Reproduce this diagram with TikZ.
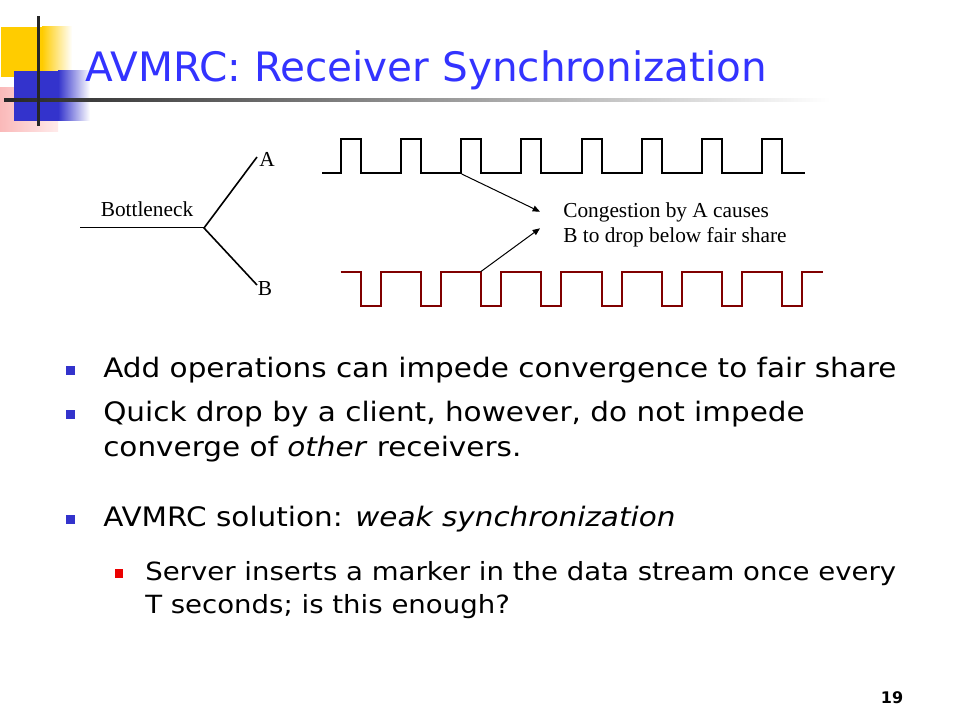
\documentclass[tikz,border=0pt]{standalone}
\usepackage{fontspec}
\setmainfont{Liberation Serif}
\newfontfamily\titlefont{DejaVu Sans}
\newfontfamily\bodyfont[FakeStretch=1.1]{DejaVu Sans}
\usetikzlibrary{arrows.meta}
\definecolor{titleblue}{RGB}{51,51,255}
\definecolor{bulletblue}{RGB}{51,51,204}
\definecolor{bulletred}{RGB}{235,0,0}
\definecolor{logoyellow}{RGB}{255,204,0}
\definecolor{logoblue}{RGB}{51,51,204}
\definecolor{logopink}{RGB}{250,185,185}
\definecolor{logopinklight}{RGB}{255,235,235}
\definecolor{wavered}{RGB}{128,0,0}
\tikzset{
  lab/.style={font=\fontsize{16}{19}\selectfont, inner sep=0pt},
  bodytext/.style={font=\bodyfont\fontsize{20.1}{24}\selectfont, inner sep=0pt, anchor=base west},
  subtext/.style={font=\bodyfont\fontsize{18.8}{22}\selectfont, inner sep=0pt, anchor=base west},
  wave/.style={line width=1.5pt, line join=miter},
  arr/.style={line width=0.75pt, -{Triangle[length=5.5pt,width=4.5pt]}},
  bmark/.style={fill=bulletblue},
  smark/.style={fill=bulletred}
}
\begin{document}
\begin{tikzpicture}[x=0.75pt,y=-0.75pt]
\useasboundingbox (0,0) rectangle (960,720);
% ---- logo ----
\shade[left color=logopink, right color=logopinklight] (0,88) rectangle (58,132);
\fill[logoyellow] (1,27) rectangle (42,77);
\shade[left color=logoyellow, right color=white] (42,27) rectangle (72,77);
\fill[logoblue] (14,71) rectangle (58,121);
\shade[left color=logoblue, right color=white] (58,71) rectangle (90,121);
\shade[left color=black!85, right color=white] (4,99) rectangle (830,102);
\fill[black!85] (37,16) rectangle (40,126);
% ---- title ----
\node[anchor=base west, font=\titlefont\fontsize{30.4}{36}\selectfont, text=titleblue, inner sep=0pt] (title) at (85,82) {AVMRC: Receiver Synchronization};
% ---- bottleneck ----
\coordinate (bl) at (80,228);
\coordinate (j) at (204,228);
\coordinate (ea) at (257,157);
\coordinate (eb) at (257,285);
\draw[line width=0.75pt] (bl) -- (j);
\draw[line width=1.2pt] (ea) -- (j) -- (eb);
\node[lab, anchor=base] (bn) at (147,217) {Bottleneck};
\node[lab] (la) at (267,159) {A};
\node[lab] (lb) at (265,289) {B};
% ---- waveforms ----
\draw[wave] (322,173)
  \foreach \k in {0,...,7} { -- ({340.7+60.2*\k},173) -- ({340.7+60.2*\k},139) -- ({360.7+60.2*\k},139) -- ({360.7+60.2*\k},173) }
  -- (805,173);
\draw[wave, wavered] (340.7,271.7)
  \foreach \k in {0,...,7} { -- ({360.7+60.2*\k},271.7) -- ({360.7+60.2*\k},305.7) -- ({380.7+60.2*\k},305.7) -- ({380.7+60.2*\k},271.7) }
  -- (823,271.7);
\coordinate (pa) at (461.7,174);
\coordinate (pb) at (480.7,271.7);
\coordinate (ta) at (540,211.7);
\coordinate (tb) at (540,228.3);
\draw[arr] (pa) -- (ta);
\draw[arr] (pb) -- (tb);
\node[lab, anchor=base west] (c1) at (563,217.7) {Congestion by A causes};
\node[lab, anchor=base west] (c2) at (563,242.3) {B to drop below fair share};
% ---- bullets ----
\fill[bmark] (65.5,365.5) rectangle (74.5,374.5);
\node[bodytext] (t1) at (103,377) {Add operations can impede convergence to fair share};
\fill[bmark] (65.5,410.2) rectangle (74.5,419.2);
\node[bodytext] (t2a) at (103,421.7) {Quick drop by a client, however, do not impede};
\node[bodytext] (t2b) at (103,456.7) {converge of \textit{other} receivers.};
\fill[bmark] (65.5,514.5) rectangle (74.5,523.5);
\node[bodytext] (t3) at (103,526) {AVMRC solution: \textit{weak synchronization}};
\fill[smark] (114.5,569) rectangle (123,577.5);
\node[subtext] (s1a) at (145,580) {Server inserts a marker in the data stream once every};
\node[subtext] (s1b) at (145,613) {T seconds; is this enough?};
% ---- page number ----
\node[font=\titlefont\bfseries\fontsize{12}{14}\selectfont, anchor=base, inner sep=0pt] (pg) at (892,703) {19};
\end{tikzpicture}
\end{document}
